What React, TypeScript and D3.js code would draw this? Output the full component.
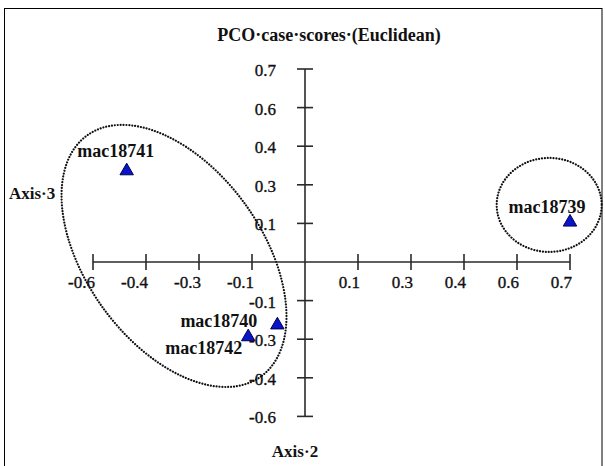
import React from "react";
import * as d3 from "d3";

const names = ["mac18741", "mac18739", "mac18740", "mac18742"];
const axis2Scores = [-0.471, 0.7, -0.073, -0.15];
const axis3Scores = [0.334, 0.148, -0.225, -0.268];
// label offsets (px) relative to the point, and anchor
const labelDx = [-11, -23, -20, -6];
const labelDy = [-13, -8, 3, 18];
const labelAnchor = ["middle", "middle", "end", "end"];

const xTickValues = [-0.56, -0.42, -0.28, -0.14, 0.14, 0.28, 0.42, 0.56, 0.7];
const xTickLabels = ["-0.6", "-0.4", "-0.3", "-0.1", "0.1", "0.3", "0.4", "0.6", "0.7"];
const yTickValues = [0.7, 0.56, 0.42, 0.28, 0.14, -0.14, -0.28, -0.42, -0.56];
const yTickLabels = ["0.7", "0.6", "0.4", "0.3", "0.1", "-0.1", "-0.3", "-0.4", "-0.6"];

// group outlines: centre in data units
const groupCx = [-0.346, 0.645];
const groupCy = [0.022, 0.207];
const groupRx = [148.6, 52.5];
const groupRy = [88, 47];
const groupRot = [54.2, 0];

const title = "PCO·case·scores·(Euclidean)";
const xTitle = "Axis·2";
const yTitle = "Axis·3";

export default function App() {
  const W = 605;
  const H = 466;
  const x = d3.scaleLinear().domain([0, 0.7]).range([305, 570]);
  const y = d3.scaleLinear().domain([0, 0.7]).range([262, 69]);
  const tri = d3.symbol().type(d3.symbolTriangle).size(78)();
  const font = "'Liberation Serif', 'Times New Roman', serif";
  const axisColor = "#2a2a2a";
  const x0 = x(d3.min(xTickValues) as number);
  const x1 = x(d3.max(xTickValues) as number);
  const y0 = y(d3.max(yTickValues) as number);
  const y1 = y(d3.min(yTickValues) as number);

  return (
    <svg
      width={W}
      height={H}
      style={{ position: "absolute", left: 0, top: 0, background: "#fff" }}
      fontFamily={font}
    >
      <rect x={4.5} y={8.5} width={597.5} height={480} fill="#fff" stroke="#000" strokeWidth={1} />
      <text x={329} y={41} textAnchor="middle" fontWeight="bold" fontSize={18} fill="#111">
        {title}
      </text>

      {/* group outlines */}
      {groupCx.map((cx, i) => (
        <ellipse
          key={"g" + i}
          cx={0}
          cy={0}
          rx={groupRx[i]}
          ry={groupRy[i]}
          transform={`translate(${x(cx)},${y(groupCy[i])}) rotate(${groupRot[i]})`}
          fill="none"
          stroke="#111"
          strokeWidth={2.2}
          strokeDasharray="0.01 2.9"
          strokeLinecap="round"
        />
      ))}

      {/* axes */}
      <line x1={x0} x2={x1} y1={y(0)} y2={y(0)} stroke={axisColor} strokeWidth={1.6} />
      <line x1={x(0)} x2={x(0)} y1={y0} y2={y1} stroke={axisColor} strokeWidth={1.6} />
      {xTickValues.map((v, i) => (
        <g key={"xt" + i}>
          <line x1={x(v)} x2={x(v)} y1={y(0) - 8} y2={y(0) + 8} stroke={axisColor} strokeWidth={1.6} />
          <text x={x(v) + 2} y={y(0) + 26} textAnchor="end" fontSize={17} fill="#111" stroke="#111" strokeWidth={0.35}>
            {xTickLabels[i]}
          </text>
        </g>
      ))}
      {yTickValues.map((v, i) => (
        <g key={"yt" + i}>
          <line x1={x(0) - 8} x2={x(0) + 8} y1={y(v)} y2={y(v)} stroke={axisColor} strokeWidth={1.6} />
          <text x={x(0) - 29} y={y(v) + 7} textAnchor="end" fontSize={17} fill="#111" stroke="#111" strokeWidth={0.35}>
            {yTickLabels[i]}
          </text>
        </g>
      ))}

      <text x={295} y={457} textAnchor="middle" fontWeight="bold" fontSize={17} fill="#111">
        {xTitle}
      </text>
      <text x={9} y={199} textAnchor="start" fontWeight="bold" fontSize={17} fill="#111">
        {yTitle}
      </text>

      {/* points */}
      {names.map((n, i) => (
        <g key={n}>
          <path
            d={tri as string}
            transform={`translate(${x(axis2Scores[i])},${y(axis3Scores[i]) + 1})`}
            fill="#0a14c8"
            stroke="#000050"
            strokeWidth={1}
          />
          <text
            x={x(axis2Scores[i]) + labelDx[i]}
            y={y(axis3Scores[i]) + labelDy[i]}
            textAnchor={labelAnchor[i] as any}
            fontWeight="bold"
            fontSize={18}
            fill="#111"
          >
            {n}
          </text>
        </g>
      ))}
    </svg>
  );
}
